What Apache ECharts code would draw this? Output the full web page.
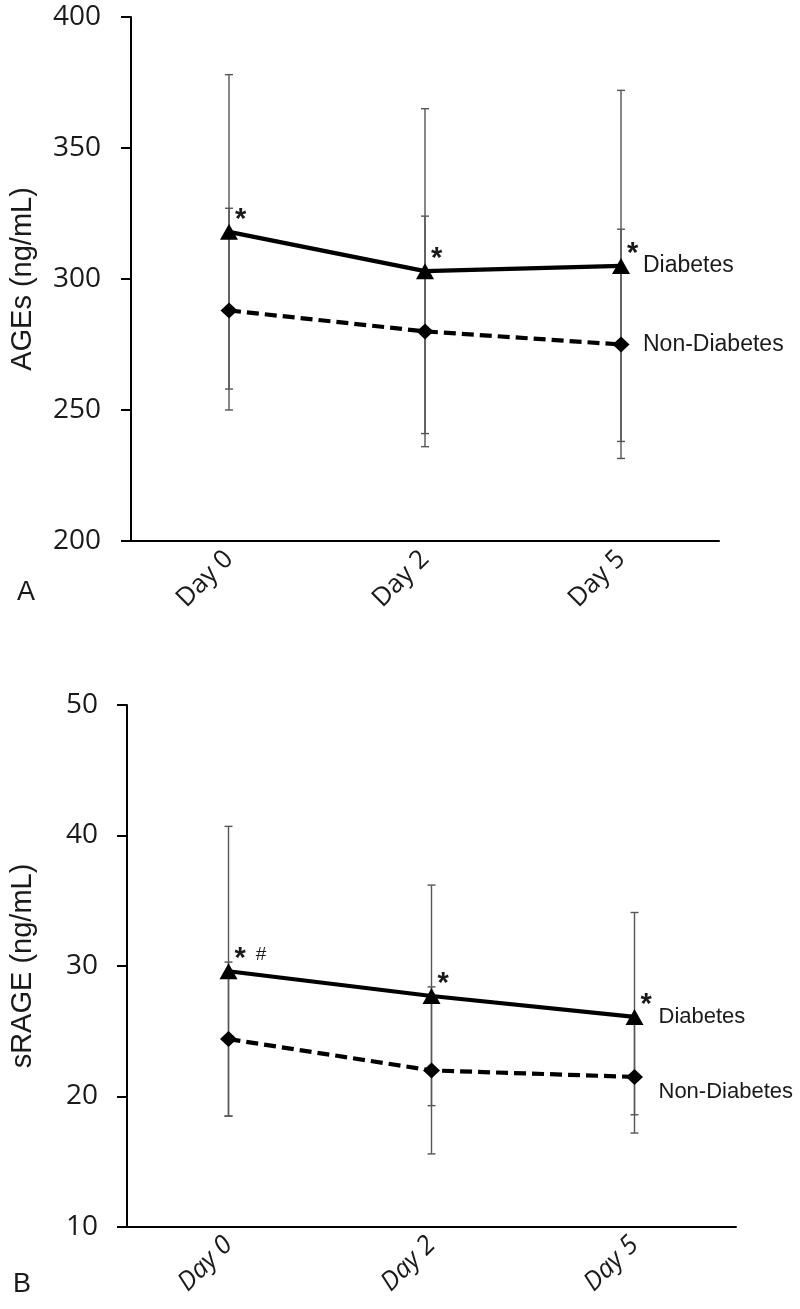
<!DOCTYPE html>
<html>
<head>
<meta charset="utf-8">
<script src="https://cdn.jsdelivr.net/npm/echarts@6/dist/echarts.min.js"></script>
<style>
  html, body { margin: 0; padding: 0; background: #fff; }
  #chart { width: 800px; height: 1309px; }
</style>
</head>
<body>
<div id="chart"></div>
<script>
// ---------- data ----------
const categories = ['Day 0', 'Day 2', 'Day 5'];
const seriesNames = ['Diabetes', 'Non-Diabetes'];

// Panel A: AGEs (ng/mL)
const agesDiabetes = [318, 303, 305];
const agesDiabetesLow = [258, 241, 238];
const agesDiabetesHigh = [378, 365, 372];
const agesNonDiabetes = [288, 280, 275];
const agesNonDiabetesLow = [250, 236, 231.5];
const agesNonDiabetesHigh = [327, 324, 319];
const agesMarks = ['*', '*', '*'];
const agesTicks = { min: 200, max: 400, interval: 50 };

// Panel B: sRAGE (ng/mL)
const sragDiabetes = [29.6, 27.7, 26.1];
const sragDiabetesLow = [18.5, 19.3, 18.6];
const sragDiabetesHigh = [40.7, 36.2, 34.1];
const sragNonDiabetes = [24.4, 22.0, 21.5];
const sragNonDiabetesLow = [18.5, 15.6, 17.2];
const sragNonDiabetesHigh = [30.3, 28.4, 25.8];
const sragMarks = ['* #', '*', '*'];
const sragTicks = { min: 10, max: 50, interval: 10 };

const panelLetters = ['A', 'B'];
const yTitles = ['AGEs (ng/mL)', 'sRAGE (ng/mL)'];

// ---------- helpers ----------
const TXT = '#1a1a1a';
const tickFont = '"Open Sans", sans-serif';
const arial = '"Liberation Sans", Arial, sans-serif';

function errRows(low, high) {
  return low.map((l, i) => [i, l, high[i]]);
}

function errorSeries(gi, rows) {
  return {
    type: 'custom',
    xAxisIndex: gi, yAxisIndex: gi,
    z: 1,
    silent: true,
    encode: { x: 0, y: [1, 2] },
    data: rows,
    renderItem: function (params, api) {
      const x = api.value(0);
      const lo = api.coord([x, api.value(1)]);
      const hi = api.coord([x, api.value(2)]);
      const hw = 4;
      const st = { stroke: '#555', lineWidth: 1.4 };
      return {
        type: 'group',
        children: [
          { type: 'line', shape: { x1: lo[0], y1: lo[1], x2: hi[0], y2: hi[1] }, style: st },
          { type: 'line', shape: { x1: lo[0] - hw, y1: lo[1], x2: lo[0] + hw, y2: lo[1] }, style: st },
          { type: 'line', shape: { x1: hi[0] - hw, y1: hi[1], x2: hi[0] + hw, y2: hi[1] }, style: st }
        ]
      };
    }
  };
}

function markFormatter(marks) {
  return function (p) {
    const parts = marks[p.dataIndex].split(' ');
    let s = '{a|' + parts[0] + '}';
    if (parts.length > 1) s += '{b|' + parts.slice(1).join(' ') + '}';
    return s;
  };
}

function lineSeries(gi, name, data, dashed, marks, endOffset, endSize) {
  const s = {
    type: 'line',
    name: name,
    xAxisIndex: gi, yAxisIndex: gi,
    z: 3,
    data: data,
    symbol: dashed ? 'diamond' : 'triangle',
    symbolSize: dashed ? [17, 16] : [18, 16],
    showAllSymbol: true,
    itemStyle: { color: '#000' },
    lineStyle: { color: '#000', width: 4.2, type: dashed ? [12, 6] : 'solid' },
    endLabel: {
      show: true,
      formatter: name,
      fontFamily: arial,
      fontSize: endSize,
      color: TXT,
      distance: endOffset[0],
      offset: [0, endOffset[1]]
    },
    animation: false
  };
  if (marks) {
    s.label = {
      show: true,
      position: 'inside',
      align: 'left',
      verticalAlign: 'middle',
      offset: [6, -12],
      formatter: markFormatter(marks),
      rich: {
        a: { fontFamily: arial, fontSize: 29, fontWeight: 'bold', color: TXT },
        b: { fontFamily: arial, fontSize: 19, color: TXT, padding: [0, 0, 8, 10] }
      }
    };
  }
  return s;
}

function xAxis(gi, italic) {
  return {
    type: 'category',
    gridIndex: gi,
    data: categories,
    boundaryGap: true,
    axisLine: { lineStyle: { color: '#000', width: 2 } },
    axisTick: { show: false },
    axisLabel: {
      rotate: 45, margin: 14, fontFamily: tickFont, fontSize: 26, color: TXT,
      fontStyle: italic ? 'italic' : 'normal'
    },
    splitLine: { show: false }
  };
}

function yAxis(gi, t, title, margin, gap) {
  return {
    type: 'value',
    gridIndex: gi,
    min: t.min, max: t.max, interval: t.interval,
    axisLine: { show: true, lineStyle: { color: '#000', width: 2 } },
    axisTick: { show: true, inside: false, length: 10, lineStyle: { color: '#000', width: 2 } },
    axisLabel: { margin: margin, fontFamily: tickFont, fontSize: 28, color: TXT },
    splitLine: { show: false },
    name: title,
    nameLocation: 'middle',
    nameRotate: 90,
    nameGap: gap,
    nameTextStyle: { fontFamily: arial, fontSize: 29, color: TXT }
  };
}

const chart = echarts.init(document.getElementById('chart'), null, { renderer: 'canvas' });

const option = {
  backgroundColor: '#fff',
  animation: false,
  grid: [
    { left: 129, top: 17, width: 590, height: 524 },
    { left: 125, top: 705, width: 611, height: 522 }
  ],
  xAxis: [xAxis(0, false), xAxis(1, true)],
  yAxis: [
    yAxis(0, agesTicks, yTitles[0], 30, 94),
    yAxis(1, sragTicks, yTitles[1], 29, 90)
  ],
  series: [
    errorSeries(0, errRows(agesDiabetesLow, agesDiabetesHigh)),
    errorSeries(0, errRows(agesNonDiabetesLow, agesNonDiabetesHigh)),
    lineSeries(0, seriesNames[1], agesNonDiabetes, true, null, [22, 0], 23),
    lineSeries(0, seriesNames[0], agesDiabetes, false, agesMarks, [22, 0], 23),
    errorSeries(1, errRows(sragDiabetesLow, sragDiabetesHigh)),
    errorSeries(1, errRows(sragNonDiabetesLow, sragNonDiabetesHigh)),
    lineSeries(1, seriesNames[1], sragNonDiabetes, true, null, [24, 15], 22),
    lineSeries(1, seriesNames[0], sragDiabetes, false, sragMarks, [24, 0], 22)
  ],
  graphic: [
    { type: 'text', left: 17, top: 579, style: { text: panelLetters[0], fontFamily: arial, fontSize: 27, fill: TXT } },
    { type: 'text', left: 13, top: 1271, style: { text: panelLetters[1], fontFamily: arial, fontSize: 27, fill: TXT } }
  ]
};

chart.setOption(option);
</script>
</body>
</html>
